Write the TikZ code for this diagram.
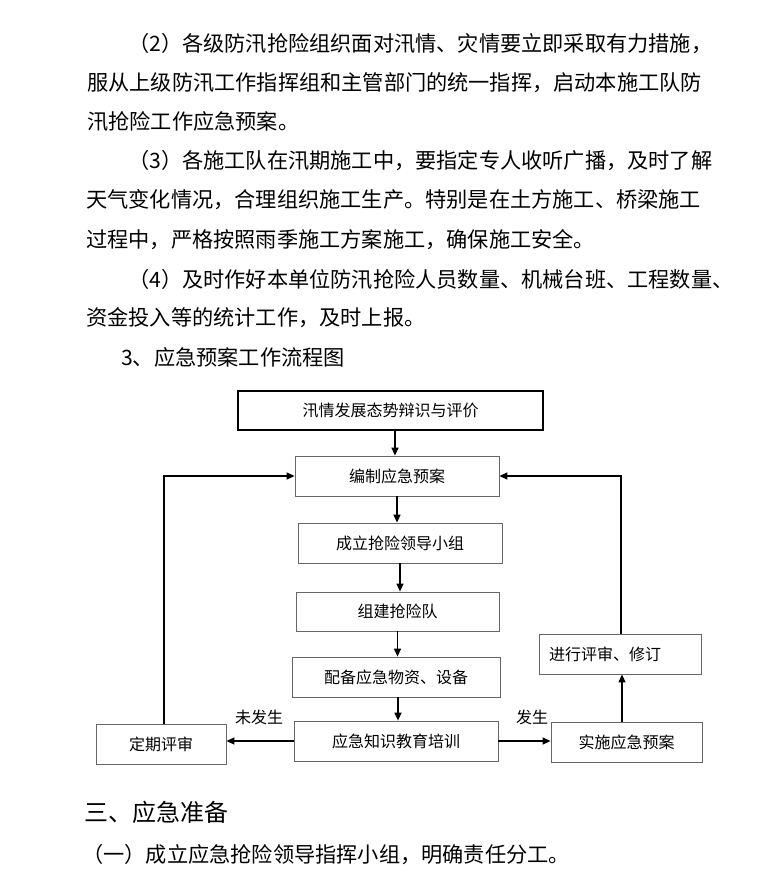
\documentclass[tikz,border=0pt]{standalone}
\usepackage{fontspec}
\setmainfont{Noto Sans CJK SC}
\usetikzlibrary{arrows.meta}
\def\sprA#1{\sprB#1\relax}
\def\sprB#1{#1\sprC}
\def\sprC#1{\ifx\relax#1\else\hskip0pt plus 1fil #1\expandafter\sprC\fi}
\begin{document}
\begin{tikzpicture}[x=1pt,y=-1pt,
  body/.style={anchor=west,inner sep=0pt,font=\fontsize{21.2}{21.2}\selectfont},
  head/.style={anchor=west,inner sep=0pt,font=\fontsize{24}{24}\selectfont},
  box/.style={draw=black!60,line width=0.8pt,minimum height=40pt,inner sep=0pt,font=\fontsize{16}{16}\selectfont,fill=white},
  topbox/.style={box,draw=black,line width=1.2pt},
  arr/.style={line width=1.3pt,-{Triangle[length=8pt,width=7pt]}},
  lbl/.style={inner sep=0pt,font=\fontsize{16}{16}\selectfont}]
\useasboundingbox[fill=white] (0,0) rectangle (781,873);
% text
\node[body] (t1) at (128,44) {（2）各级防汛抢险组织面对汛情、灾情要立即采取有力措施，};
\node[body] (t2) at (87,83) {服从上级防汛工作指挥组和主管部门的统一指挥，启动本施工队防};
\node[body] (t3) at (87,122) {汛抢险工作应急预案。};
\node[body] (t4) at (128,161) {\hbox to 577pt{\sprA{（3）各施工队在汛期施工中，要指定专人收听广播，及时了解}}};
\node[body] (t5) at (86,200) {天气变化情况，合理组织施工生产。特别是在土方施工、桥梁施工};
\node[body] (t6) at (86,240) {过程中，严格按照雨季施工方案施工，确保施工安全。};
\node[body] (t7) at (128,279) {（4）及时作好本单位防汛抢险人员数量、机械台班、工程数量、};
\node[body] (t8) at (86,318) {资金投入等的统计工作，及时上报。};
\node[body] (t9) at (121,357) {3、应急预案工作流程图};
\node[head] (h1) at (84,812) {三、应急准备};
\node[body] (h2) at (82,855) {（一）成立应急抢险领导指挥小组，明确责任分工。};
% boxes
\node[topbox,minimum width=305pt,minimum height=39pt] (A) at (390.5,410.5) {汛情发展态势辩识与评价};
\node[box,minimum width=204pt] (B) at (397,476) {编制应急预案};
\node[box,minimum width=204pt] (C) at (400,543) {成立抢险领导小组};
\node[box,minimum width=203pt,minimum height=39pt] (D) at (397.5,611.5) {组建抢险队};
\node[box,minimum width=208pt] (E) at (396,677) {配备应急物资、设备};
\node[box,minimum width=204pt] (F) at (396,741) {应急知识教育培训};
\node[box,minimum width=130pt] (G) at (161,744) {定期评审};
\node[box,minimum width=151pt] (H) at (626.5,742) {实施应急预案};
\node[box,minimum width=162pt,text width=142pt,align=left] (I) at (620,654) {进行评审、修订};
% labels
\node[lbl] (L1) at (259,717) {未发生};
\node[lbl] (L2) at (532,717) {发生};
% connectors
\draw[arr] ([xshift=-2pt]B.north |- A.south) -- ([xshift=-2pt]B.north);
\draw[arr] (B.south) -- (B.south |- C.north);
\draw[arr] (C.south) -- (C.south |- D.north);
\draw[arr] (D.south) -- (D.south |- E.north);
\draw[arr] ([xshift=2pt]E.south) -- ([xshift=2pt]E.south |- F.north);
\draw[arr] ([xshift=3pt]G.north) |- (B.west);
\draw[arr] ([xshift=1pt]I.north) |- (B.east);
\draw[arr] ([xshift=2pt]H.north -| I.south) -- ([xshift=2pt]I.south);
\draw[arr] (F.west) -- (F.west -| G.east);
\draw[arr] (F.east) -- (F.east -| H.west);
\end{tikzpicture}
\end{document}
